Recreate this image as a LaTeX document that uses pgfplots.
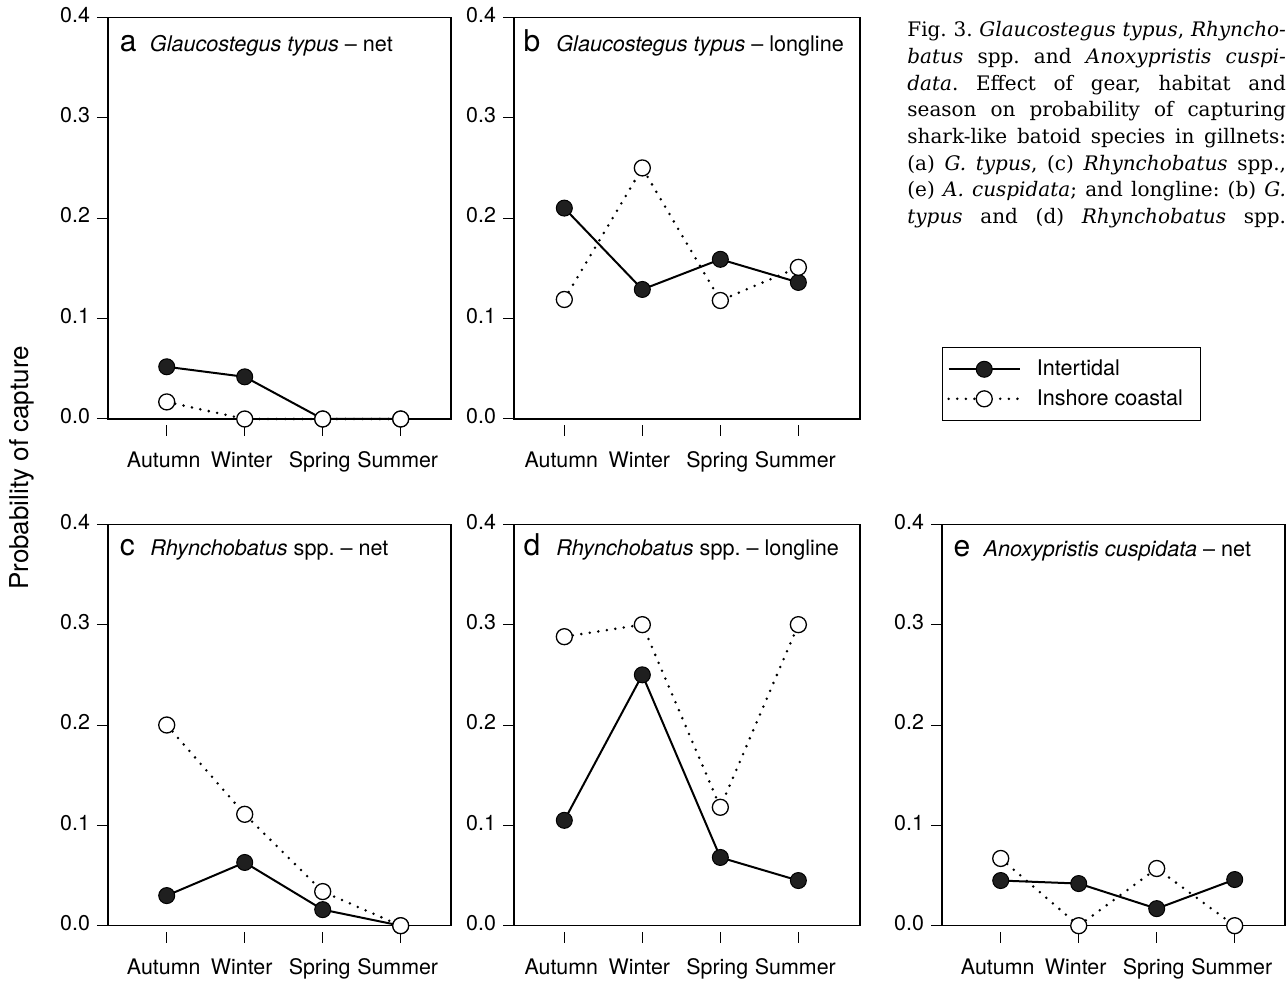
\documentclass[border=0pt]{standalone}
\usepackage{fontspec}
\setmainfont{TeX Gyre Heros}
\newfontfamily\capfont{DejaVu Serif}
\usepackage{pgfplots}
\pgfplotsset{compat=1.18}

\pgfplotsset{
  panel/.style={
    scale only axis, anchor=south west,
    ymin=0, ymax=0.4, ytick={0,0.1,0.2,0.3,0.4},
    xtick={1,2,3,4}, xticklabels={Autumn,Winter,Spring,Summer},
    y tick label style={/pgf/number format/fixed,
      /pgf/number format/fixed zerofill, /pgf/number format/precision=1},
    /pgf/number format/assume math mode=true,
    tick pos=left, tick align=outside, major tick length=5.5pt,
    tick style={black, line width=0.5pt},
    xtick style={yshift=-3pt},
    x tick label style={yshift=-6.8pt, xshift=-1.5pt},
    typeset ticklabels with strut,
    tick label style={font=\fontsize{10.7}{12}\selectfont},
    axis line style={line width=0.6pt},
    clip=false,
  },
  inter/.style={black, solid, line width=1pt, mark=*, mark size=4pt,
    mark options={solid, fill=black!88, draw=black, line width=0.5pt}},
  inshore/.style={black, line width=1.4pt, dash pattern=on 0pt off 4.3pt,
    line cap=round, mark=*, mark size=4pt,
    mark options={solid, fill=white, draw=black, line width=0.65pt}},
  legend image code/.code={
    \draw[mark repeat=2, mark phase=2, #1]
      plot coordinates {(0pt,0pt) (17.8pt,0pt) (35.6pt,0pt)};},
}
\newcommand{\plet}{\fontsize{15}{16}\selectfont}
\newcommand{\ptit}{\fontsize{10.8}{12}\selectfont}

\begin{document}
\frenchspacing
\begin{tikzpicture}
\path[use as bounding box] (0,0) rectangle (643.5pt,490.5pt);

% a
\begin{axis}[panel, at={(54pt,281pt)}, width=171.5pt, height=200.85pt,
  xmin=0.247, xmax=4.645]
\addplot[inter] coordinates {(1,0.052) (2,0.042) (3,0) (4,0)};
\addplot[inshore] coordinates {(1,0.017) (2,0) (3,0) (4,0)};
\node[anchor=base west, inner sep=0, font=\plet, xshift=5.8pt, yshift=-17pt] at (rel axis cs:0,1) {a};
\node[anchor=base west, inner sep=0, font=\ptit, xshift=20.8pt, yshift=-17pt] at (rel axis cs:0,1) {\textit{Glaucostegus typus} – net};
\end{axis}

% b
\begin{axis}[panel, at={(257pt,281pt)}, width=173pt, height=200.85pt,
  xmin=0.355, xmax=4.79]
\addplot[inter] coordinates {(1,0.210) (2,0.129) (3,0.159) (4,0.136)};
\addplot[inshore] coordinates {(1,0.119) (2,0.250) (3,0.118) (4,0.151)};
\node[anchor=base west, inner sep=0, font=\plet, xshift=4.65pt, yshift=-17pt] at (rel axis cs:0,1) {b};
\node[anchor=base west, inner sep=0, font=\ptit, xshift=21pt, yshift=-17pt] at (rel axis cs:0,1) {\textit{Glaucostegus typus} – longline};
\end{axis}

% c
\begin{axis}[panel, at={(54pt,27.65pt)}, width=171.5pt, height=200.7pt,
  xmin=0.247, xmax=4.645]
\addplot[inter] coordinates {(1,0.030) (2,0.063) (3,0.016) (4,0)};
\addplot[inshore] coordinates {(1,0.200) (2,0.111) (3,0.034) (4,0)};
\node[anchor=base west, inner sep=0, font=\plet, xshift=5.8pt, yshift=-15.7pt] at (rel axis cs:0,1) {c};
\node[anchor=base west, inner sep=0, font=\ptit, xshift=21pt, yshift=-15.7pt] at (rel axis cs:0,1) {\textit{Rhynchobatus} spp. – net};
\end{axis}

% d
\begin{axis}[panel, at={(257pt,27.65pt)}, width=173pt, height=200.7pt,
  xmin=0.355, xmax=4.79]
\addplot[inter] coordinates {(1,0.105) (2,0.250) (3,0.068) (4,0.045)};
\addplot[inshore] coordinates {(1,0.288) (2,0.300) (3,0.118) (4,0.300)};
\node[anchor=base west, inner sep=0, font=\plet, xshift=4.65pt, yshift=-15.7pt] at (rel axis cs:0,1) {d};
\node[anchor=base west, inner sep=0, font=\ptit, xshift=21pt, yshift=-15.7pt] at (rel axis cs:0,1) {\textit{Rhynchobatus} spp. – longline};
\end{axis}

% e, with the legend above it
\begin{axis}[panel, at={(471pt,27.65pt)}, width=171.5pt, height=200.7pt,
  xmin=0.247, xmax=4.645,
  legend style={at={(0.001,1.2581)}, anchor=south west, draw=black,
    line width=0.5pt, font=\ptit, inner xsep=2.2pt, inner ysep=4pt,
    row sep=1.4pt, legend cell align=left,
    /tikz/every odd column/.append style={column sep=5.8pt}}]
\addplot[inter] coordinates {(1,0.045) (2,0.042) (3,0.017) (4,0.046)};
\addlegendentry{Intertidal}
\addplot[inshore] coordinates {(1,0.067) (2,0) (3,0.057) (4,0)};
\addlegendentry{Inshore coastal\hspace*{4.5pt}}
\node[anchor=base west, inner sep=0, font=\plet, xshift=5.65pt, yshift=-16.3pt] at (rel axis cs:0,1) {e};
\node[anchor=base west, inner sep=0, font=\ptit, xshift=20.6pt, yshift=-16.3pt] at (rel axis cs:0,1) {\textit{Anoxypristis cuspidata} – net};
\end{axis}

\node[rotate=90, font=\fontsize{13}{14}\selectfont, inner sep=0] at (11pt,256.5pt) {Probability of capture};

% caption
\begin{scope}[every node/.style={anchor=base west, inner sep=0, font=\capfont\fontsize{10}{12}\selectfont}]
\node at (453.5pt,472.15pt) {\makebox[189.3pt][s]{Fig. 3. \textit{Glaucostegus typus}, \textit{Rhyncho-}}};
\node at (453.5pt,458.8pt) {\makebox[189.3pt][s]{\textit{batus} spp. and \textit{Anoxypristis cuspi-}}};
\node at (453.5pt,445.45pt) {\makebox[189.3pt][s]{\textit{data}. Effect of gear, habitat and}};
\node at (453.5pt,432.1pt) {\makebox[189.3pt][s]{season on probability of capturing}};
\node at (453.5pt,418.75pt) {\makebox[189.3pt][s]{shark-like batoid species in gillnets:}};
\node at (453.5pt,405.4pt) {\makebox[189.3pt][s]{(a) \textit{G. typus}, (c) \textit{Rhynchobatus} spp.,}};
\node at (453.5pt,392.05pt) {\makebox[189.3pt][s]{(e) \textit{A. cuspidata}; and longline: (b) \textit{G.}}};
\node at (453.5pt,378.7pt) {\makebox[189.3pt][s]{\textit{typus} and (d) \textit{Rhynchobatus} spp.}};
\end{scope}
\end{tikzpicture}
\end{document}
